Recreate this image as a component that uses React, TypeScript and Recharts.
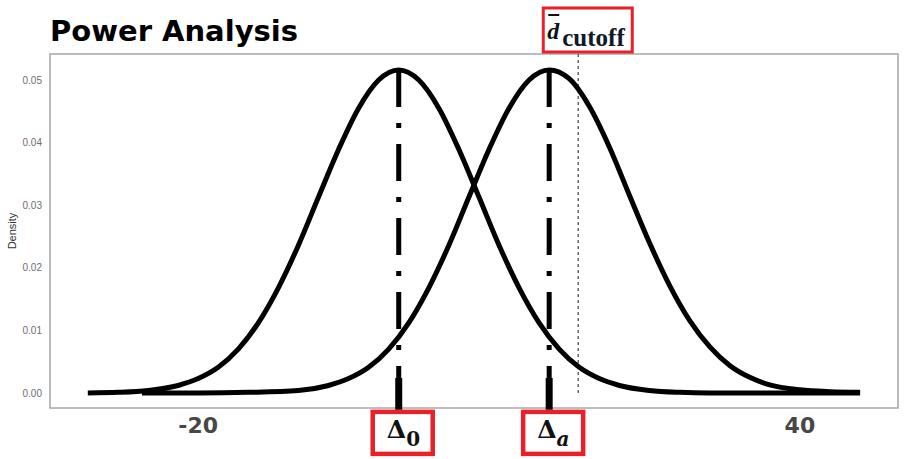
import { LineChart, Line, XAxis, YAxis, ReferenceLine, ReferenceArea } from "recharts";

// null distribution (centred on Δ0)
const NULL_X = [-31, -28, -25, -22, -20, -18, -16, -14, -12, -10, -8, -6, -4, -2, 0, 2, 4, 6, 8, 10, 12, 14, 16, 18, 20, 22, 25, 28, 31, 35, 40, 46];
const NULL_D = [0, 0.0001, 0.0004, 0.0012, 0.0023, 0.0041, 0.007, 0.0112, 0.0168, 0.0236, 0.0313, 0.0389, 0.0455, 0.05, 0.0516, 0.05, 0.0455, 0.0389, 0.0313, 0.0236, 0.0168, 0.0112, 0.007, 0.0041, 0.0023, 0.0012, 0.0004, 0.0001, 0, 0, 0, 0];

// alternative distribution (centred on Δa)
const ALT_X = [-25.6, -20, -15, -10, -7, -5, -3, -1, 1, 3, 5, 7, 9, 11, 13, 15, 17, 19, 21, 23, 25, 27, 29, 31, 33, 35, 37, 40, 43, 46];
const ALT_D = [0, 0, 0.0001, 0.0004, 0.0012, 0.0023, 0.0041, 0.007, 0.0112, 0.0168, 0.0236, 0.0313, 0.0389, 0.0455, 0.05, 0.0516, 0.0502, 0.0458, 0.0393, 0.0316, 0.024, 0.0172, 0.0116, 0.0074, 0.0044, 0.0025, 0.0013, 0.0005, 0.0002, 0.0001];

const X_TICKS = [-20, 40];
const Y_TICKS = [0, 0.01, 0.02, 0.03, 0.04, 0.05];

const DELTA_0 = 0;
const DELTA_A = 15;
const D_CUTOFF = 17.9;
const PEAK = 0.0516;

const X_DOMAIN: [number, number] = [-34.77, 49.78];
const Y_DOMAIN: [number, number] = [-0.0024, 0.05415];

const nullCurve = NULL_X.map((x, i) => ({ x, y: NULL_D[i] }));
const altCurve = ALT_X.map((x, i) => ({ x, y: ALT_D[i] }));

const RED = "#e8202a";

function DeltaLabel({ viewBox, sub, italic }: { viewBox?: any; sub: string; italic?: boolean }) {
  if (!viewBox) return null;
  const { x, y, height } = viewBox;
  const top = y + height + 2;
  return (
    <g>
      <rect x={x - 26} y={top} width={60} height={42} fill="#fff" stroke={RED} strokeWidth={4.5} />
      <text x={x - 12} y={top + 26} fill="#111" fontFamily="DejaVu Serif" fontWeight="bold" fontSize={25}>
        Δ
        <tspan dy={8} fontSize={20} fontStyle={italic ? "italic" : "normal"}>
          {sub}
        </tspan>
      </text>
    </g>
  );
}

function CutoffLabel({ viewBox }: { viewBox?: any }) {
  if (!viewBox) return null;
  const { x, y } = viewBox;
  return (
    <g>
      <rect x={x - 35} y={y - 46} width={89} height={44} fill="#fff" stroke={RED} strokeWidth={3} />
      <line x1={x - 30} x2={x - 19} y1={y - 39} y2={y - 39} stroke="#111" strokeWidth={2} />
      <text x={x - 31} y={y - 15} fill="#111" fontFamily="Liberation Serif" fontWeight="bold" fontStyle="italic" fontSize={24}>
        d
      </text>
      <text x={x - 16} y={y - 8} fill="#111827" fontFamily="Liberation Serif" fontWeight="bold" fontSize={25}>
        cutoff
      </text>
    </g>
  );
}

export default function App() {
  return (
    <div style={{ position: "absolute", left: 0, top: 0, width: 906, height: 459, background: "#fff" }}>
      <div
        style={{
          position: "absolute",
          left: 50,
          top: 17,
          fontFamily: "DejaVu Sans",
          fontWeight: "bold",
          fontSize: 29,
          lineHeight: "29px",
          color: "#000",
          whiteSpace: "nowrap",
        }}
      >
        Power Analysis
      </div>
      <LineChart width={906} height={459} margin={{ top: 54, right: 8, bottom: 21, left: 10 }}>
        <XAxis
          dataKey="x"
          type="number"
          domain={X_DOMAIN}
          allowDataOverflow
          ticks={X_TICKS}
          interval={0}
          tickLine={false}
          axisLine={false}
          tickMargin={3}
          height={30}
          tick={{ fontSize: 22, fontWeight: "bold", fill: "#474747", fontFamily: "DejaVu Sans" }}
        />
        <YAxis
          type="number"
          domain={Y_DOMAIN}
          allowDataOverflow
          ticks={Y_TICKS}
          interval={0}
          tickFormatter={(v: number) => v.toFixed(2)}
          tickLine={false}
          axisLine={false}
          width={40}
          tick={{ fontSize: 10, fill: "#6e6e6e", fontFamily: "Liberation Sans" }}
          label={{
            value: "Density",
            angle: -90,
            position: "insideLeft",
            offset: 2,
            style: { textAnchor: "middle", fontSize: 11, fill: "#333", fontFamily: "Liberation Sans" },
          }}
        />
        <ReferenceArea
          x1={X_DOMAIN[0]}
          x2={X_DOMAIN[1]}
          y1={Y_DOMAIN[0]}
          y2={Y_DOMAIN[1]}
          fill="none"
          stroke="#a6a6a6"
          strokeWidth={1.5}
          ifOverflow="visible"
        />
        <ReferenceLine
          segment={[{ x: D_CUTOFF, y: Y_DOMAIN[1] }, { x: D_CUTOFF, y: 0 }]}
          stroke="#666"
          strokeWidth={1.5}
          strokeDasharray="3 3"
          ifOverflow="visible"
          label={(p: any) => <CutoffLabel viewBox={p.viewBox} />}
        />
        <Line data={nullCurve} dataKey="y" type="monotone" stroke="#000" strokeWidth={5} dot={false} isAnimationActive={false} />
        <Line data={altCurve} dataKey="y" type="monotone" stroke="#000" strokeWidth={5} dot={false} isAnimationActive={false} />
        <ReferenceLine
          segment={[{ x: DELTA_0, y: PEAK }, { x: DELTA_0, y: 0 }]}
          stroke="#000"
          strokeWidth={5}
          strokeDasharray="37 16 5 16"
          ifOverflow="visible"
        />
        <ReferenceLine
          segment={[{ x: DELTA_A, y: PEAK }, { x: DELTA_A, y: 0 }]}
          stroke="#000"
          strokeWidth={5}
          strokeDasharray="37 16 5 16"
          ifOverflow="visible"
        />
        <ReferenceLine
          segment={[{ x: DELTA_0, y: 0.0024 }, { x: DELTA_0, y: -0.0027 }]}
          stroke="#000"
          strokeWidth={7}
          ifOverflow="visible"
          label={(p: any) => <DeltaLabel viewBox={p.viewBox} sub="0" />}
        />
        <ReferenceLine
          segment={[{ x: DELTA_A, y: 0.0024 }, { x: DELTA_A, y: -0.0027 }]}
          stroke="#000"
          strokeWidth={7}
          ifOverflow="visible"
          label={(p: any) => <DeltaLabel viewBox={p.viewBox} sub="a" italic />}
        />
      </LineChart>
    </div>
  );
}
